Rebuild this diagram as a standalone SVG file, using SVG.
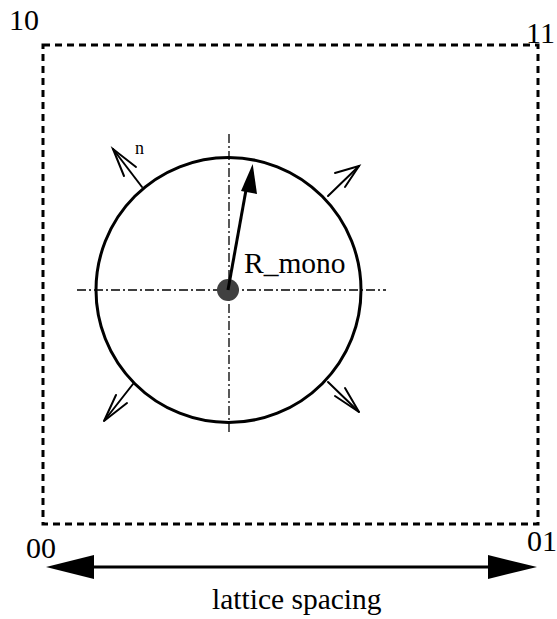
<svg xmlns="http://www.w3.org/2000/svg" width="557" height="619" viewBox="0 0 557 619">
<style>
.lbl{font-size:30px}
.axis{stroke:#000;stroke-width:1.3;stroke-dasharray:9 3 2 3;fill:none}
.nrm{stroke:#000;stroke-width:2;fill:none;stroke-linecap:round}
</style>
<rect width="557" height="619" fill="#fff"/>
<g id="cell">
<rect x="43" y="45" width="495" height="479" fill="none" stroke="#000" stroke-width="3" stroke-dasharray="7 5"/>
</g>
<g id="corner-labels" font-family="'Liberation Serif', 'Times New Roman', serif" fill="#000">
<text class="lbl" x="9" y="30">10</text>
<text class="lbl" x="526" y="43">11</text>
<text class="lbl" x="26" y="558">00</text>
<text class="lbl" x="527" y="551">01</text>
</g>
<g id="axes">
<line class="axis" x1="77" y1="290" x2="386" y2="290"/>
<line class="axis" x1="229" y1="134" x2="229" y2="433"/>
</g>
<g id="monomer">
<circle cx="228.5" cy="290" r="132.5" fill="none" stroke="#000" stroke-width="3"/>
<circle cx="228" cy="290" r="11" fill="#404040"/>
</g>
<g id="radius">
<line x1="228" y1="290" x2="246" y2="190" stroke="#000" stroke-width="3"/>
<polygon points="252.7,164 241,191 257,194" fill="#000"/>
<text x="244" y="273" font-size="29.5" font-family="'Liberation Serif', 'Times New Roman', serif" fill="#000">R_mono</text>
</g>
<g id="normals">
<line class="nrm" x1="142" y1="187" x2="113" y2="149"/>
<polyline class="nrm" points="124,176 113,149 136,167"/>
<text x="135" y="154" font-size="18" font-family="'Liberation Serif', 'Times New Roman', serif" fill="#000">n</text>
<line class="nrm" x1="328" y1="196" x2="359" y2="166"/>
<polyline class="nrm" points="335,173 359,166 345,187"/>
<line class="nrm" x1="133" y1="384" x2="104" y2="421"/>
<polyline class="nrm" points="116,395 104,421 127,403"/>
<line class="nrm" x1="328" y1="382" x2="359" y2="412"/>
<polyline class="nrm" points="335,396 359,412 345,388"/>
</g>
<g id="connectors">
<line x1="90" y1="567" x2="492" y2="567" stroke="#000" stroke-width="3"/>
<polygon points="46,567 94,555 94,579" fill="#000"/>
<polygon points="537,567 488,555 488,579" fill="#000"/>
<text x="212" y="609" font-size="29.5" font-family="'Liberation Serif', 'Times New Roman', serif" fill="#000">lattice spacing</text>
</g>
</svg>
